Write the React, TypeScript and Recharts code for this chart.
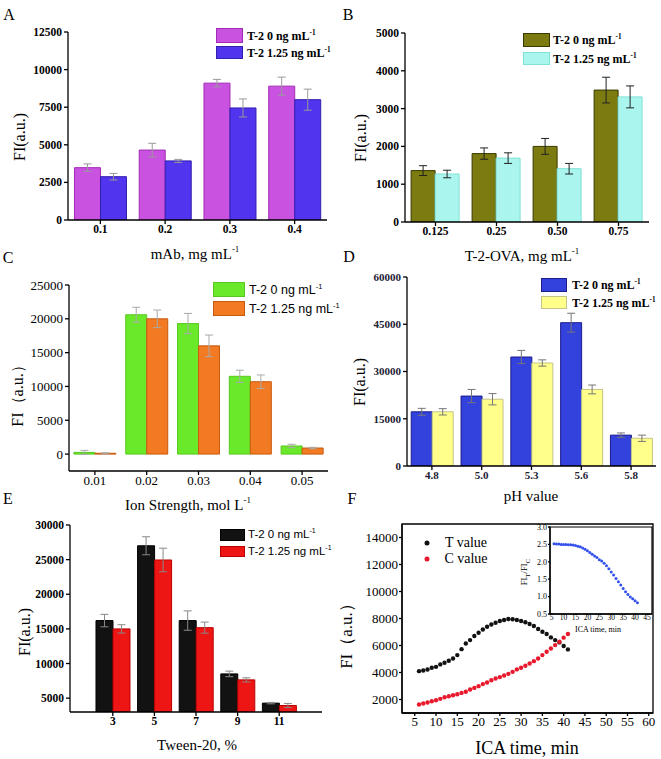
import React from 'react';
import { BarChart, Bar, XAxis, YAxis, ErrorBar, ScatterChart, Scatter, ReferenceArea } from 'recharts';

const SERIF = '"Liberation Serif", "Times New Roman", serif';
const SANS = '"Liberation Sans", Arial, sans-serif';

// A: mAb concentration
const mAbConc = ['0.1', '0.2', '0.3', '0.4'];
const mAbT0 = [3480, 4650, 9100, 8900];
const mAbT0Err = [250, 450, 250, 600];
const mAbT125 = [2880, 3930, 7450, 8000];
const mAbT125Err = [220, 100, 600, 700];

// B: T-2-OVA concentration
const ovaConc = ['0.125', '0.25', '0.50', '0.75'];
const ovaT0 = [1360, 1810, 2000, 3490];
const ovaT0Err = [130, 150, 210, 340];
const ovaT125 = [1270, 1690, 1410, 3310];
const ovaT125Err = [100, 140, 140, 290];

// C: ion strength
const ionConc = ['0.01', '0.02', '0.03', '0.04', '0.05'];
const ionT0 = [250, 20600, 19300, 11500, 1200];
const ionT0Err = [300, 1100, 1500, 900, 250];
const ionT125 = [120, 20000, 16000, 10700, 900];
const ionT125Err = [80, 1300, 1600, 1000, 100];

// D: pH
const phValues = ['4.8', '5.0', '5.3', '5.6', '5.8'];
const phT0 = [17200, 22200, 34600, 45500, 9800];
const phT0Err = [1100, 2100, 2100, 3000, 700];
const phT125 = [17200, 21200, 32700, 24300, 8800];
const phT125Err = [1000, 1800, 1000, 1400, 1000];

// E: Tween-20
const tweenPct = ['3', '5', '7', '9', '11'];
const tweenT0 = [16200, 27000, 16200, 8500, 4280];
const tweenT0Err = [900, 1300, 1400, 400, 100];
const tweenT125 = [15000, 24950, 15180, 7640, 3940];
const tweenT125Err = [600, 1700, 800, 300, 300];

// F: ICA time
const icaTime = [6, 7, 8, 9, 10, 11, 12, 13, 14, 15, 16, 17, 18, 19, 20, 21, 22, 23, 24, 25, 26, 27, 28, 29, 30, 31, 32, 33, 34, 35, 36, 37, 38, 39, 40, 41];
const tValue = [4100, 4150, 4225, 4350, 4420, 4600, 4720, 4870, 5040, 5290, 5730, 6150, 6400, 6700, 6950, 7190, 7390, 7560, 7690, 7810, 7890, 7960, 7940, 7890, 7810, 7720, 7590, 7440, 7220, 7020, 6850, 6600, 6400, 6230, 5960, 5710];
const cValue = [1630, 1700, 1775, 1875, 1950, 2050, 2170, 2245, 2320, 2390, 2490, 2570, 2740, 2860, 2990, 3140, 3260, 3430, 3560, 3660, 3780, 3900, 4050, 4230, 4350, 4500, 4670, 4840, 5040, 5290, 5540, 5780, 6030, 6280, 6580, 6850];
const ratio = [2.52, 2.51, 2.51, 2.5, 2.5, 2.5, 2.49, 2.49, 2.48, 2.47, 2.45, 2.43, 2.4, 2.36, 2.32, 2.27, 2.22, 2.17, 2.12, 2.06, 2.02, 1.96, 1.89, 1.8, 1.71, 1.62, 1.52, 1.43, 1.33, 1.23, 1.14, 1.06, 0.99, 0.94, 0.88, 0.82];

const axisLine = { stroke: '#000', strokeWidth: 1.3 };

function Txt({ x, y, size, font = SERIF, weight = 400, rotate = false, color = '#000', children }: any) {
  return (
    <div
      style={{
        position: 'absolute',
        left: x,
        top: y,
        transform: `translate(-50%, -50%)${rotate ? ' rotate(-90deg)' : ''}`,
        fontFamily: font,
        fontSize: size,
        fontWeight: weight,
        color,
        whiteSpace: 'nowrap',
        lineHeight: 1,
      }}
    >
      {children}
    </div>
  );
}

function LegendRow({ box, fill, stroke, tx, font, size, weight, label }: any) {
  const [bx, by, bw, bh] = box;
  return (
    <>
      <div style={{ position: 'absolute', left: bx, top: by, width: bw - 2, height: bh - 2, background: fill, border: `1px solid ${stroke}` }} />
      <div style={{ position: 'absolute', left: tx, top: by + bh / 2, transform: 'translateY(-50%)', fontFamily: font, fontSize: size, fontWeight: weight, whiteSpace: 'nowrap', lineHeight: 1 }}>
        {label}
      </div>
    </>
  );
}

const sup = (s: string) => <sup style={{ fontSize: '0.6em', verticalAlign: '0.7em', lineHeight: 0 }}>{s}</sup>;
const lbl0 = <>T-2 0 ng mL{sup('-1')}</>;
const lbl1 = <>T-2 1.25 ng mL{sup('-1')}</>;

function BarPanel({ x, y, w, h, margin, yWidth, cats, s0, e0, s1, e1, c0, c1, errColor, domain, ticks, tick, gap, xPad }: any) {
  const data = cats.map((c: string, i: number) => ({ cat: c, a: s0[i], ae: e0[i], b: s1[i], be: e1[i] }));
  return (
    <div style={{ position: 'absolute', left: x, top: y }}>
      <BarChart width={w} height={h} data={data} margin={margin} barGap={0} barCategoryGap={gap}>
        <XAxis dataKey="cat" height={20} tick={tick} tickSize={4} tickMargin={1} axisLine={axisLine} tickLine={axisLine} padding={xPad} interval={0} />
        <YAxis width={yWidth} type="number" domain={domain} ticks={ticks} tick={tick} tickSize={4} tickMargin={2} axisLine={axisLine} tickLine={axisLine} allowDataOverflow interval={0} />
        <Bar dataKey="a" fill={c0[0]} stroke={c0[1]} strokeWidth={1} isAnimationActive={false}>
          <ErrorBar dataKey="ae" width={4} stroke={errColor} strokeWidth={1} direction="y" />
        </Bar>
        <Bar dataKey="b" fill={c1[0]} stroke={c1[1]} strokeWidth={1} isAnimationActive={false}>
          <ErrorBar dataKey="be" width={4} stroke={errColor} strokeWidth={1} direction="y" />
        </Bar>
      </BarChart>
    </div>
  );
}

const dot = (r: number, fill: string) => (p: any) => <circle cx={p.cx} cy={p.cy} r={r} fill={fill} />;

export default function App() {
  const tData = icaTime.map((t, i) => ({ t, v: tValue[i] }));
  const cData = icaTime.map((t, i) => ({ t, v: cValue[i] }));
  const rData = icaTime.map((t, i) => ({ t, v: ratio[i] }));
  const serifBold = { fontSize: 11.5, fontFamily: SERIF, fontWeight: 700, fill: '#000' };

  return (
    <div style={{ position: 'relative', width: 661, height: 759, background: '#fff', overflow: 'hidden' }}>
      <style>{'body{margin:0}'}</style>

      {/* A */}
      <BarPanel x={0} y={0} w={330} h={240} margin={{ top: 32, right: 3, left: 0, bottom: 0 }} yWidth={68}
        cats={mAbConc} s0={mAbT0} e0={mAbT0Err} s1={mAbT125} e1={mAbT125Err}
        c0={['#c953e0', '#a22ab4']} c1={['#5034ee', '#3020b0']} errColor="#999"
        domain={[0, 12500]} ticks={[0, 2500, 5000, 7500, 10000, 12500]} tick={serifBold} gap="10%" />
      <Txt x={9} y={15} size={16}>A</Txt>
      <Txt x={20} y={137} size={16} rotate>FI(a.u.)</Txt>
      <Txt x={195} y={254} size={15}>mAb, mg mL{sup('-1')}</Txt>
      <LegendRow box={[216, 28, 27, 15]} fill="#c953e0" stroke="#a22ab4" tx={247} font={SERIF} size={12} weight={700} label={lbl0} />
      <LegendRow box={[216, 46, 27, 13]} fill="#5034ee" stroke="#3020b0" tx={247} font={SERIF} size={12} weight={700} label={lbl1} />

      {/* B */}
      <BarPanel x={330} y={0} w={331} h={242} margin={{ top: 33, right: 12, left: 0, bottom: 0 }} yWidth={75}
        cats={ovaConc} s0={ovaT0} e0={ovaT0Err} s1={ovaT125} e1={ovaT125Err}
        c0={['#7b7b12', '#3a3a00']} c1={['#aaf5ee', '#80e2d4']} errColor="#222"
        domain={[0, 5000]} ticks={[0, 1000, 2000, 3000, 4000, 5000]} tick={serifBold} gap="10%" />
      <Txt x={348} y={15} size={16}>B</Txt>
      <Txt x={361} y={138} size={16} rotate>FI(a.u.)</Txt>
      <Txt x={522} y={256} size={15}>T-2-OVA, mg mL{sup('-1')}</Txt>
      <LegendRow box={[523, 33, 27, 14]} fill="#7b7b12" stroke="#3a3a00" tx={553} font={SERIF} size={12} weight={700} label={lbl0} />
      <LegendRow box={[523, 52, 27, 13]} fill="#aaf5ee" stroke="#80e2d4" tx={553} font={SERIF} size={12} weight={700} label={lbl1} />

      {/* C */}
      <BarPanel x={0} y={250} w={330} h={241} margin={{ top: 35, right: 2, left: 0, bottom: 0 }} yWidth={69}
        cats={ionConc} s0={ionT0} e0={ionT0Err} s1={ionT125} e1={ionT125Err}
        c0={['#6ae82a', '#58c820']} c1={['#f27a22', '#c85a10']} errColor="#aaa"
        domain={[-2500, 25000]} ticks={[0, 5000, 10000, 15000, 20000, 25000]}
        tick={{ fontSize: 13, fontFamily: SERIF, fill: '#000' }} gap="9.5%" />
      <Txt x={8} y={258} size={16}>C</Txt>
      <Txt x={18} y={392} size={16} rotate>FI（a.u.）</Txt>
      <Txt x={188} y={505} size={15}>Ion Strength, mol L{sup('-1')}</Txt>
      <LegendRow box={[213, 282, 32, 15]} fill="#6ae82a" stroke="#58c820" tx={249} font={SANS} size={12.5} weight={400} label={lbl0} />
      <LegendRow box={[213, 301, 32, 15]} fill="#f27a22" stroke="#c85a10" tx={249} font={SANS} size={12.5} weight={400} label={lbl1} />

      {/* D */}
      <BarPanel x={330} y={250} w={331} h={236} margin={{ top: 27, right: 5, left: 0, bottom: 0 }} yWidth={77}
        cats={phValues} s0={phT0} e0={phT0Err} s1={phT125} e1={phT125Err}
        c0={['#3341dd', '#1c1c8a']} c1={['#ffff8a', '#c4c48a']} errColor="#777"
        domain={[0, 60000]} ticks={[0, 15000, 30000, 45000, 60000]}
        tick={{ fontSize: 11, fontFamily: SERIF, fontWeight: 700, fill: '#223' }} gap="8.5%" />
      <Txt x={349} y={257} size={16}>D</Txt>
      <Txt x={360} y={382} size={16} rotate>FI(a.u.)</Txt>
      <Txt x={531} y={496} size={15}>pH value</Txt>
      <LegendRow box={[541, 278, 26, 14]} fill="#3341dd" stroke="#1c1c8a" tx={572} font={SERIF} size={12} weight={700} label={lbl0} />
      <LegendRow box={[541, 296, 26, 13]} fill="#ffff8a" stroke="#c4c48a" tx={572} font={SERIF} size={12} weight={700} label={lbl1} />

      {/* E */}
      <BarPanel x={0} y={500} w={330} h={232} margin={{ top: 25, right: 8, left: 0, bottom: 0 }} yWidth={70}
        cats={tweenPct} s0={tweenT0} e0={tweenT0Err} s1={tweenT125} e1={tweenT125Err}
        c0={['#121212', '#000']} c1={['#ee1515', '#b00']} errColor="#888"
        domain={[3000, 30000]} ticks={[5000, 10000, 15000, 20000, 25000, 30000]}
        tick={{ fontSize: 11.5, fontFamily: SERIF, fontWeight: 700, fill: '#000' }} gap="9.6%" xPad={{ left: 22, right: 22 }} />
      <Txt x={8} y={499} size={16}>E</Txt>
      <Txt x={25} y={632} size={16} rotate>FI(a.u.)</Txt>
      <Txt x={197} y={745} size={15}>Tween-20, %</Txt>
      <LegendRow box={[220, 529, 25, 12]} fill="#121212" stroke="#000" tx={248} font={SANS} size={11.5} weight={400} label={lbl0} />
      <LegendRow box={[220, 546, 25, 11]} fill="#ee1515" stroke="#b00" tx={248} font={SANS} size={11.5} weight={400} label={lbl1} />

      {/* F */}
      <div style={{ position: 'absolute', left: 330, top: 500 }}>
        <ScatterChart width={331} height={233} margin={{ top: 24, right: 8, left: 0, bottom: 0 }}>
          <XAxis type="number" dataKey="t" domain={[2, 61]} ticks={[5, 10, 15, 20, 25, 30, 35, 40, 45, 50, 55, 60]} height={20}
            tick={{ fontSize: 13, fontFamily: SERIF, fill: '#000' }} tickSize={3} tickMargin={1} axisLine={axisLine} tickLine={axisLine} allowDataOverflow interval={0} />
          <YAxis type="number" dataKey="v" domain={[1000, 15000]} ticks={[2000, 4000, 6000, 8000, 10000, 12000, 14000]} width={72}
            tick={{ fontSize: 13, fontFamily: SERIF, fill: '#000' }} tickSize={3} tickMargin={1} axisLine={axisLine} tickLine={axisLine} allowDataOverflow interval={0} />
          <ReferenceArea x1={2} x2={61} y1={1000} y2={15000} fill="none" stroke="#000" strokeWidth={1.3} fillOpacity={0} />
          <Scatter data={tData} shape={dot(2.2, '#111')} isAnimationActive={false} />
          <Scatter data={cData} shape={dot(2.2, '#e8192c')} isAnimationActive={false} />
        </ScatterChart>
      </div>
      <Txt x={352} y={499} size={16}>F</Txt>
      <Txt x={346} y={632} size={17} rotate>FI（a.u.）</Txt>
      <Txt x={527} y={748} size={18}>ICA time, min</Txt>
      <svg style={{ position: 'absolute', left: 420, top: 536 }} width={14} height={30}>
        <circle cx={7} cy={7} r={2.5} fill="#111" />
        <circle cx={7} cy={23} r={2.5} fill="#e8192c" />
      </svg>
      <Txt x={466} y={543} size={14}>T value</Txt>
      <Txt x={466} y={559} size={14}>C value</Txt>

      {/* F inset */}
      <div style={{ position: 'absolute', left: 520, top: 520 }}>
        <ScatterChart width={140} height={104} margin={{ top: 7, right: 8, left: 0, bottom: 0 }}>
          <XAxis type="number" dataKey="t" domain={[4.3, 47.1]} ticks={[5, 10, 15, 20, 25, 30, 35, 40, 45]} height={10}
            tick={{ fontSize: 7.5, fontFamily: SERIF, fill: '#000' }} tickSize={1} tickMargin={0} axisLine={axisLine} tickLine={axisLine} allowDataOverflow interval={0} />
          <YAxis type="number" dataKey="v" domain={[0.5, 3.0]} ticks={[0.5, 1.0, 1.5, 2.0, 2.5, 3.0]} width={30}
            tickFormatter={(v: number) => v.toFixed(1)}
            tick={{ fontSize: 8, fontFamily: SERIF, fill: '#000' }} tickSize={2} tickMargin={1} axisLine={axisLine} tickLine={axisLine} allowDataOverflow interval={0} />
          <ReferenceArea x1={4.3} x2={47.1} y1={0.5} y2={3.0} fill="none" stroke="#000" strokeWidth={1.2} fillOpacity={0} />
          <Scatter data={rData} shape={dot(1.5, '#3350ee')} isAnimationActive={false} />
        </ScatterChart>
      </div>
      <Txt x={598} y={630} size={8}>ICA time, min</Txt>
      <Txt x={526} y={572} size={8.5} rotate>FI<sub>T</sub>/FI<sub>C</sub></Txt>
    </div>
  );
}
